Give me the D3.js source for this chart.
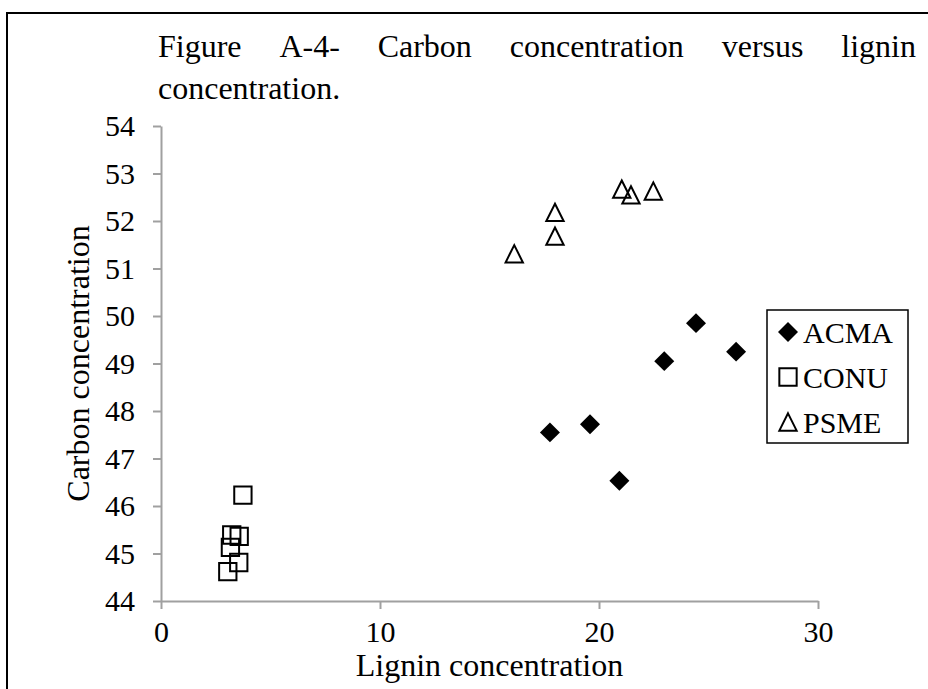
<!DOCTYPE html>
<html>
<head>
<meta charset="utf-8">
<script src="https://cdn.jsdelivr.net/npm/d3@7"></script>
<style>
    body { margin: 0; background: #fff; }
    svg { display: block; }
    text { font-family: "Liberation Serif", "Times New Roman", serif; fill: #000; }
</style>
</head>
<body>
<div id="chart"></div>
<script>
// values
let acma_x = [17.76, 19.59, 20.93, 22.98, 24.43, 26.26];
let acma_y = [47.55, 47.72, 46.53, 49.05, 49.85, 49.25];
let conu_x = [3.74, 3.23, 3.57, 3.17, 3.55, 3.05];
let conu_y = [46.23, 45.39, 45.36, 45.13, 44.81, 44.62];
let psme_x = [16.13, 17.99, 17.99, 21.04, 21.46, 22.48];
let psme_y = [51.31, 52.18, 51.68, 52.67, 52.55, 52.63];

let x_ticks = [0, 10, 20, 30];
let y_ticks = [44, 45, 46, 47, 48, 49, 50, 51, 52, 53, 54];
let series_names = ["ACMA", "CONU", "PSME"];
let title_lines = ["Figure A-4- Carbon concentration versus lignin", "concentration."];

let width = 928, height = 689;
let margin = {top: 126, right: 110, bottom: 88, left: 161};

let svg = d3.select("#chart").append("svg")
    .attr("width", width)
    .attr("height", height);

// frame of the figure (runs off the right and bottom edges)
svg.append("rect")
    .attr("x", 7).attr("y", 13)
    .attr("width", 940).attr("height", 700)
    .style("fill", "none")
    .style("stroke", "#000")
    .style("stroke-width", 2);

// title, justified on the first line
function JustifyLine(text, y, x0, x1, justify) {
    let words = text.split(" ");
    let g = svg.append("g");
    let nodes = words.map(function (w) {
        return g.append("text").attr("y", y).style("font-size", "32px").text(w);
    });
    let widths = nodes.map(function (n) { return n.node().getComputedTextLength(); });
    let total = d3.sum(widths);
    let gap = justify && words.length > 1 ? (x1 - x0 - total) / (words.length - 1) : 8;
    let x = x0;
    nodes.forEach(function (n, i) {
        n.attr("x", x);
        x += widths[i] + gap;
    });
}
JustifyLine(title_lines[0], 57, 158, 916, true);
JustifyLine(title_lines[1], 99, 158, 916, false);

let xScale = d3.scaleLinear().domain([0, 30]).range([margin.left, width - margin.right]);
let yScale = d3.scaleLinear().domain([44, 54]).range([height - margin.bottom, margin.top]);

let axis_color = "#a0a0a0";

let xAxis = svg.append("g")
    .attr("transform", "translate(0," + yScale(44) + ")")
    .call(d3.axisBottom(xScale).tickValues(x_ticks).tickSize(8).tickSizeOuter(0).tickPadding(12));
let yAxis = svg.append("g")
    .attr("transform", "translate(" + xScale(0) + ",0)")
    .call(d3.axisLeft(yScale).tickValues(y_ticks).tickSize(8).tickSizeOuter(0).tickPadding(18));

[xAxis, yAxis].forEach(function (a) {
    a.select(".domain").style("stroke", axis_color).style("stroke-width", 2);
    a.selectAll(".tick line").style("stroke", axis_color).style("stroke-width", 2);
    a.selectAll(".tick text")
        .style("font-family", "'Liberation Serif', 'Times New Roman', serif")
        .style("font-size", "30px")
        .style("fill", "#000");
});

svg.append("text")
    .attr("x", (xScale(0) + xScale(30)) / 2)
    .attr("y", 676)
    .attr("text-anchor", "middle")
    .style("font-size", "32px")
    .text("Lignin concentration");

svg.append("text")
    .attr("transform", "translate(89," + (yScale(44) + yScale(54)) / 2 + ") rotate(-90)")
    .attr("text-anchor", "middle")
    .style("font-size", "32px")
    .text("Carbon concentration");

// markers: diamond, square and a triangle centred in its box
let triangleBox = {
    draw: function (context, size) {
        let s = Math.sqrt(size) / 2;
        context.moveTo(0, -s);
        context.lineTo(s, s);
        context.lineTo(-s, s);
        context.closePath();
    }
};
let markers = {
    ACMA: {type: d3.symbolSquare, size: 200, rotate: 45, fill: "#000", stroke: "none"},
    CONU: {type: d3.symbolSquare, size: 300, rotate: 0, fill: "none", stroke: "#000"},
    PSME: {type: triangleBox, size: 300, rotate: 0, fill: "none", stroke: "#000"}
};

function DrawSeries(name, xs, ys) {
    let m = markers[name];
    let data = xs.map(function (d, i) { return {x: d, y: ys[i]}; });
    svg.append("g").selectAll("path")
        .data(data)
        .enter().append("path")
        .attr("d", d3.symbol().type(m.type).size(m.size))
        .attr("transform", function (d) {
            return "translate(" + xScale(d.x) + "," + yScale(d.y) + ") rotate(" + m.rotate + ")";
        })
        .style("fill", m.fill)
        .style("stroke", m.stroke)
        .style("stroke-width", 2);
}
DrawSeries("PSME", psme_x, psme_y);
DrawSeries("CONU", conu_x, conu_y);
DrawSeries("ACMA", acma_x, acma_y);

// legend
let legend = svg.append("g").attr("transform", "translate(767,310)");
legend.append("rect")
    .attr("width", 141).attr("height", 133)
    .style("fill", "#fff")
    .style("stroke", "#000")
    .style("stroke-width", 1.5);
series_names.forEach(function (name, i) {
    let m = markers[name];
    let cy = 22 + i * 45;
    legend.append("path")
        .attr("d", d3.symbol().type(m.type).size(m.size))
        .attr("transform", "translate(21," + cy + ") rotate(" + m.rotate + ")")
        .style("fill", m.fill)
        .style("stroke", m.stroke)
        .style("stroke-width", 2);
    legend.append("text")
        .attr("x", 36)
        .attr("y", cy + 11)
        .style("font-size", "30px")
        .text(name);
});
</script>
</body>
</html>
